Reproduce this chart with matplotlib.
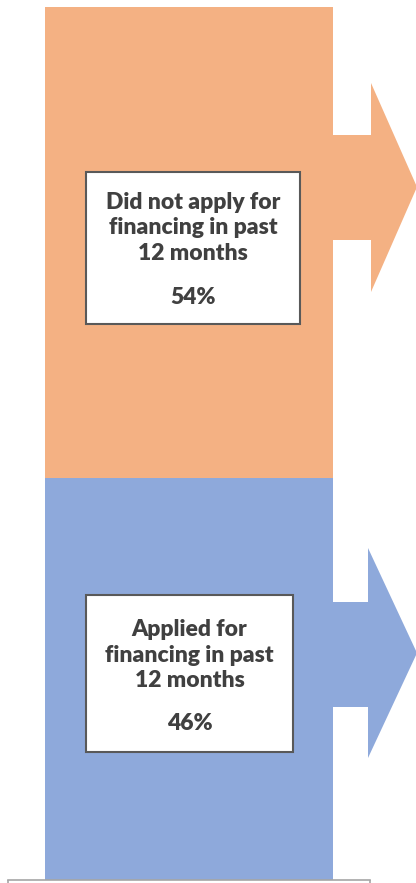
import matplotlib
matplotlib.use("Agg")
import matplotlib.pyplot as plt
from matplotlib.patches import Rectangle, Polygon

categories = ["Applied for\nfinancing in past\n12 months", "Did not apply for\nfinancing in past\n12 months"]
values = [46, 54]
pct_labels = ["46%", "54%"]
colors = ["#8EA9DB", "#F4B183"]

W, H = 416, 883
fig = plt.figure(figsize=(W / 100, H / 100), dpi=100)
ax = fig.add_axes([8 / W, 3 / H, 362 / W, 873 / H])
ax.set_xlim(-0.5 - 37 / 288, 0.5 + 37 / 288)
ax.set_ylim(0, 100)

bottom = 0
for v, c in zip(values, colors):
    ax.bar(0, v, width=1.0, bottom=bottom, color=c, edgecolor="none", zorder=2)
    bottom += v

# helpers: pixel -> data
def px_x(px):
    return (px - 45) / 288 - 0.5

def px_y(py):
    return (880 - py) / 8.73

# arrows (decorative)
arrows = [
    # (stem_top, stem_bot, head_top, head_bot, tip, stem_end_x)
    (602, 707, 548, 758, 653, 368),
    (135, 240, 83, 292, 187, 371),
]
for (st, sb, ht, hb, tip, sx), c in zip(arrows, colors):
    pts = [
        (px_x(332), px_y(st)), (px_x(sx), px_y(st)), (px_x(sx), px_y(ht)),
        (px_x(417), px_y(tip)), (px_x(sx), px_y(hb)), (px_x(sx), px_y(sb)),
        (px_x(332), px_y(sb)),
    ]
    ax.add_patch(Polygon(pts, closed=True, facecolor=c, edgecolor="none",
                         clip_on=False, zorder=2))

# text boxes
boxes = [
    # (x0, x1, y0, y1, title_center, pct_center)
    (86, 293, 595, 752, 655, 724),
    (86, 300, 172, 324, 228, 297),
]
for (x0, x1, y0, y1, tc, pc), cat, pl in zip(boxes, categories, pct_labels):
    ax.add_patch(Rectangle((px_x(x0), px_y(y1)), px_x(x1) - px_x(x0), px_y(y0) - px_y(y1),
                           facecolor="white", edgecolor="#595959", linewidth=1.5, zorder=3))
    xc = px_x((x0 + x1) / 2)
    ax.text(xc, px_y(tc), cat, ha="center", va="center", fontsize=16.5,
            fontweight="heavy", family="Lato", color="#404040",
            linespacing=1.28, zorder=4)
    ax.text(xc, px_y(pc), pl, ha="center", va="center", fontsize=16.5,
            fontweight="heavy", family="Lato", color="#404040", zorder=4)

for s in ["top", "right", "left"]:
    ax.spines[s].set_visible(False)
ax.spines["bottom"].set_color("#A6A6A6")
ax.spines["bottom"].set_linewidth(1.2)
ax.set_yticks([])
ax.set_xticks(list(ax.get_xlim()))
ax.set_xticklabels([])
ax.tick_params(axis="x", length=3, color="#A6A6A6", width=1.2)

fig.savefig("out.png", dpi=100)
